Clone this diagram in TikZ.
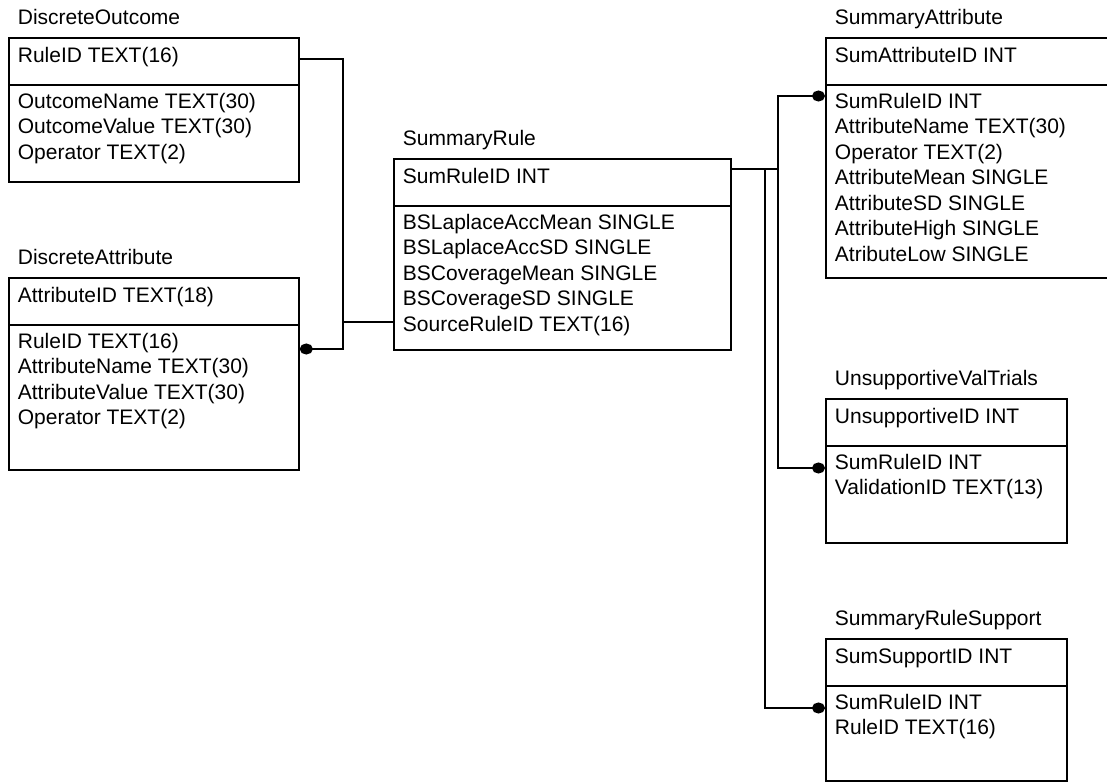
\documentclass[tikz,border=0pt]{standalone}
\usepackage{fontspec}
\setmainfont{Liberation Sans}
\usepackage{tikz}
\usetikzlibrary{arrows.meta}

\begin{document}
\begin{tikzpicture}[x=1pt, y=-1pt, line width=1.8pt,
    tbl/.style={draw, anchor=north west, inner sep=0pt},
    row/.style={anchor=base west, inner sep=0pt, font=\fontsize{21}{25}\selectfont},
    fk/.style={-{Circle[length=13pt, width=11pt]}}]
    \useasboundingbox (0,0) rectangle (1107,782);

    % DiscreteOutcome
    \node[tbl, minimum width=290pt, minimum height=144pt] (dout) at (8,37) {};
    \draw ([yshift=-48pt]dout.north west) -- ([yshift=-48pt]dout.north east);
    \node[row] (dout-t) at ([shift={(9pt,12.5pt)}]dout.north west) {DiscreteOutcome};
    \node[row] (dout-k) at ([shift={(9pt,-25pt)}]dout.north west) {RuleID TEXT(16)};
    \foreach \t [count=\i] in {OutcomeName TEXT(30), OutcomeValue TEXT(30), Operator TEXT(2)}
        \node[row] (dout-\i) at ([shift={(9pt,-45.5pt-25.5pt*\i)}]dout.north west) {\t};

    % DiscreteAttribute
    \node[tbl, minimum width=290pt, minimum height=192pt] (dattr) at (8,277) {};
    \draw ([yshift=-48pt]dattr.north west) -- ([yshift=-48pt]dattr.north east);
    \node[row] (dattr-t) at ([shift={(9pt,12.5pt)}]dattr.north west) {DiscreteAttribute};
    \node[row] (dattr-k) at ([shift={(9pt,-25pt)}]dattr.north west) {AttributeID TEXT(18)};
    \foreach \t [count=\i] in {RuleID TEXT(16), AttributeName TEXT(30), AttributeValue TEXT(30), Operator TEXT(2)}
        \node[row] (dattr-\i) at ([shift={(9pt,-45.5pt-25.5pt*\i)}]dattr.north west) {\t};

    % SummaryRule
    \node[tbl, minimum width=337pt, minimum height=191pt] (srule) at (393,158) {};
    \draw ([yshift=-48pt]srule.north west) -- ([yshift=-48pt]srule.north east);
    \node[row] (srule-t) at ([shift={(9pt,12.5pt)}]srule.north west) {SummaryRule};
    \node[row] (srule-k) at ([shift={(9pt,-25pt)}]srule.north west) {SumRuleID INT};
    \foreach \t [count=\i] in {BSLaplaceAccMean SINGLE, BSLaplaceAccSD SINGLE, BSCoverageMean SINGLE, BSCoverageSD SINGLE, SourceRuleID TEXT(16)}
        \node[row] (srule-\i) at ([shift={(9pt,-45.5pt-25.5pt*\i)}]srule.north west) {\t};

    % SummaryAttribute
    \node[tbl, minimum width=295pt, minimum height=240pt] (sattr) at (825,37) {};
    \draw ([yshift=-48pt]sattr.north west) -- ([yshift=-48pt]sattr.north east);
    \node[row] (sattr-t) at ([shift={(9pt,12.5pt)}]sattr.north west) {SummaryAttribute};
    \node[row] (sattr-k) at ([shift={(9pt,-25pt)}]sattr.north west) {SumAttributeID INT};
    \foreach \t [count=\i] in {SumRuleID INT, AttributeName TEXT(30), Operator TEXT(2), AttributeMean SINGLE, AttributeSD SINGLE, AttributeHigh SINGLE, AtributeLow SINGLE}
        \node[row] (sattr-\i) at ([shift={(9pt,-45.5pt-25.5pt*\i)}]sattr.north west) {\t};

    % UnsupportiveValTrials
    \node[tbl, minimum width=241pt, minimum height=144pt] (uvt) at (825,398) {};
    \draw ([yshift=-48pt]uvt.north west) -- ([yshift=-48pt]uvt.north east);
    \node[row] (uvt-t) at ([shift={(9pt,12.5pt)}]uvt.north west) {UnsupportiveValTrials};
    \node[row] (uvt-k) at ([shift={(9pt,-25pt)}]uvt.north west) {UnsupportiveID INT};
    \foreach \t [count=\i] in {SumRuleID INT, ValidationID TEXT(13)}
        \node[row] (uvt-\i) at ([shift={(9pt,-45.5pt-25.5pt*\i)}]uvt.north west) {\t};

    % SummaryRuleSupport
    \node[tbl, minimum width=241pt, minimum height=142pt] (srs) at (825,638) {};
    \draw ([yshift=-48pt]srs.north west) -- ([yshift=-48pt]srs.north east);
    \node[row] (srs-t) at ([shift={(9pt,12.5pt)}]srs.north west) {SummaryRuleSupport};
    \node[row] (srs-k) at ([shift={(9pt,-25pt)}]srs.north west) {SumSupportID INT};
    \foreach \t [count=\i] in {SumRuleID INT, RuleID TEXT(16)}
        \node[row] (srs-\i) at ([shift={(9pt,-45.5pt-25.5pt*\i)}]srs.north west) {\t};

    % Links on the left
    \coordinate (jl) at ([shift={(-50pt,-164pt)}]srule.north west);
    \draw ([yshift=-22pt]dout.north east) -| (jl);
    \draw[fk] (jl) |- ([yshift=-72pt]dattr.north east);
    \draw (jl) -- ([yshift=-164pt]srule.north west);

    % Links on the right
    \coordinate (jr) at ([shift={(46pt,-11pt)}]srule.north east);
    \coordinate (jq) at ([shift={(33pt,-11pt)}]srule.north east);
    \draw ([yshift=-11pt]srule.north east) -- (jr);
    \draw[fk] (jr) |- ([yshift=-59pt]sattr.north west);
    \draw[fk] (jr) |- ([yshift=-70pt]uvt.north west);
    \draw[fk] (jq) |- ([yshift=-70pt]srs.north west);
\end{tikzpicture}
\end{document}
